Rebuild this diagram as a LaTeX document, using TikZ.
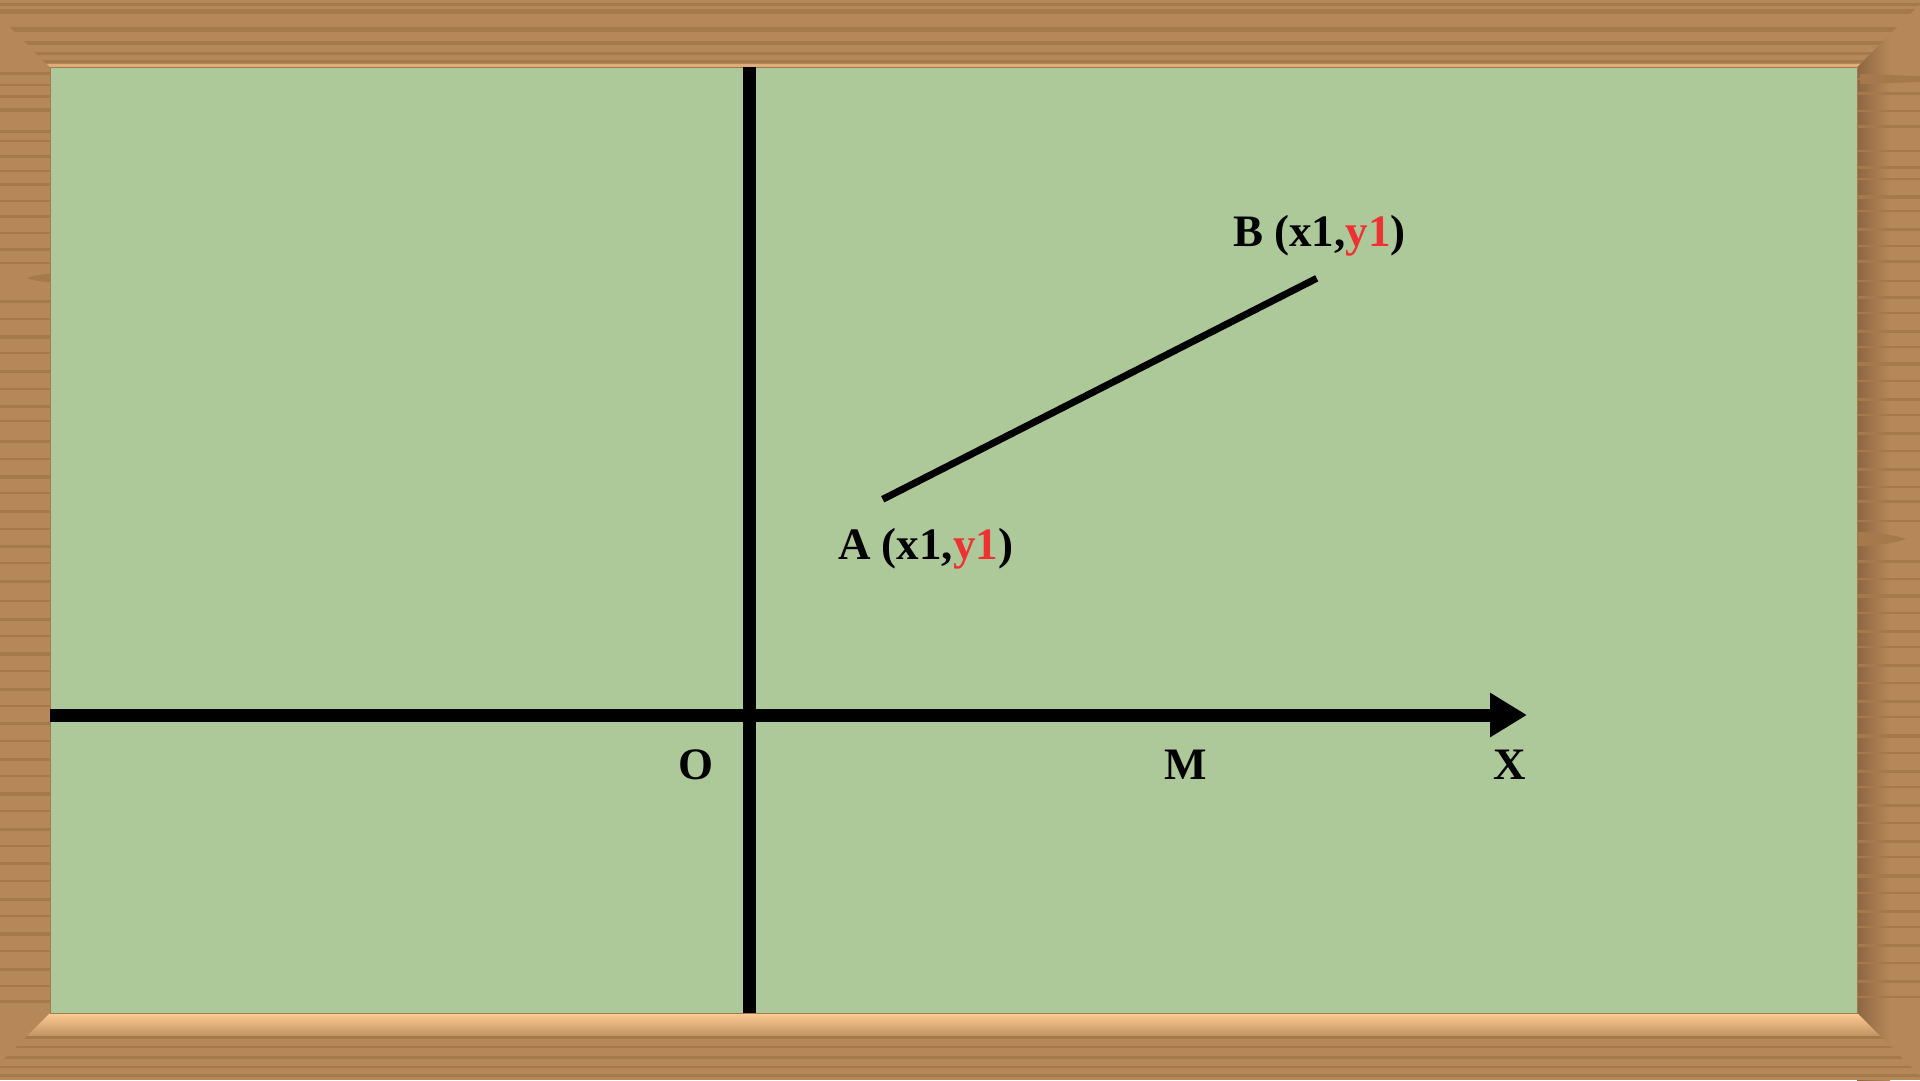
\documentclass[tikz,border=0pt]{standalone}
\usepackage{fontspec}
\setmainfont{Liberation Serif}
\usetikzlibrary{arrows.meta}
\definecolor{wood}{RGB}{182,136,89}
\definecolor{wooddark}{RGB}{166,121,77}
\definecolor{woodlight}{RGB}{255,204,148}
\definecolor{board}{RGB}{173,201,154}
\definecolor{redtxt}{RGB}{238,50,50}
\begin{document}
\begin{tikzpicture}[x=1pt,y=-1pt,
  lbl/.style={inner sep=0pt, text=black, font=\fontsize{45}{54}\selectfont\bfseries},
  axisline/.style={line width=13pt, black},
  stripe/.style={wooddark}]
\useasboundingbox (0,0) rectangle (1920,1080);
% wood base
\fill[wood] (0,0) rectangle (1920,1080);
% right frame shadow
\shade[left color=wooddark!85!black, right color=wood] (1857,0) rectangle (1890,1080);
% side stripes
\foreach \y/\h in {72/3,84/2,95/3,108/4,130/3,140/2,155/3,170/2,183/3,200/2,215/3,232/2,248/3,262/2,300/3,318/2,335/4,352/2,370/3,388/2,405/3,420/2,440/3,458/2,475/4,492/2,510/3,528/2,545/3,562/2,580/3,600/2,618/3,635/2,652/4,670/2,688/3,705/2,722/3,740/2,758/3,775/2,792/4,810/2,828/3,845/2,862/3,880/2,898/3,915/2,932/4,950/2,968/3,985/2,1000/3}
  \fill[stripe] (0,\y) rectangle (50,\y+\h);
\foreach \y/\h in {78/2,92/3,110/2,125/3,150/2,166/3,178/2,195/4,210/2,228/3,245/2,260/3,280/2,296/3,312/2,330/3,346/2,362/4,380/2,398/3,414/2,432/3,450/2,468/3,486/2,500/3,520/2,560/3,578/2,594/4,612/2,630/3,646/2,664/3,682/2,700/3,716/2,734/4,752/2,770/3,786/2,804/3,822/2,840/3,856/2,874/4,892/2,910/3,926/2,944/3,962/2,980/3,996/2}
  \fill[stripe] (1857,\y) rectangle (1920,\y+\h);
% knots
\fill[stripe] (50,274) -- (50,282) .. controls (38,282) and (30,279) .. (27,278) .. controls (30,277) and (38,274) .. (50,274) -- cycle;
\fill[stripe] (1857,532) -- (1857,546) .. controls (1880,546) and (1898,542) .. (1906,539) .. controls (1898,536) and (1880,532) .. (1857,532) -- cycle;
\fill[stripe] (1860,74) -- (1860,84) .. controls (1885,84) and (1905,82) .. (1920,82) -- (1920,76) .. controls (1905,76) and (1885,74) .. (1860,74) -- cycle;
% top frame
\begin{scope}
  \clip (-17,0) -- (1924,0) -- (1857,67) -- (50,67) -- cycle;
  \fill[wood] (-20,0) rectangle (1930,67);
  \foreach \y/\h in {3/3,9/5,27/5,41/4,52/3,60/3}
    \fill[stripe] (-20,\y) rectangle (1930,\y+\h);
  \fill[woodlight!55!wood] (-20,64) rectangle (1930,67);
\end{scope}
% bottom frame
\begin{scope}
  \clip (50,1013) -- (1857,1013) -- (1924,1080) -- (-17,1080) -- cycle;
  \fill[wood] (-20,1013) rectangle (1930,1080);
  \shade[top color=woodlight, bottom color=wood] (-20,1013) rectangle (1930,1040);
  \foreach \y/\h in {1036/3,1046/2,1056/3,1066/2,1074/3}
    \fill[stripe] (-20,\y) rectangle (1930,\y+\h);
\end{scope}
% board
\fill[board, draw=wooddark, line width=1pt] (50,67) rectangle (1857,1013);
% axes
\coordinate (ytop) at (749,67);
\coordinate (ybot) at (749,1013);
\coordinate (xl) at (50,715);
\coordinate (xr) at (1527,715);
\draw[axisline] (ytop) -- (ybot);
\draw[axisline, -{Triangle[length=37pt,width=42pt]}] (xl) -- (xr);
% segment AB
\coordinate (A) at (882.7,499.3);
\coordinate (B) at (1316.7,278.3);
\draw[line width=7pt, black] (A) -- (B);
% labels
\node[lbl, anchor=base west] (la) at (838,559) {A (x1,\textcolor{redtxt}{y1})};
\node[lbl, anchor=base west] (lb) at (1233,246) {B (x1,\textcolor{redtxt}{y1})};
\node[lbl, anchor=base] (lo) at (696,779) {O};
\node[lbl, anchor=base] (lm) at (1186,779) {M};
\node[lbl, anchor=base] (lx) at (1510,779) {X};
\end{tikzpicture}
\end{document}
